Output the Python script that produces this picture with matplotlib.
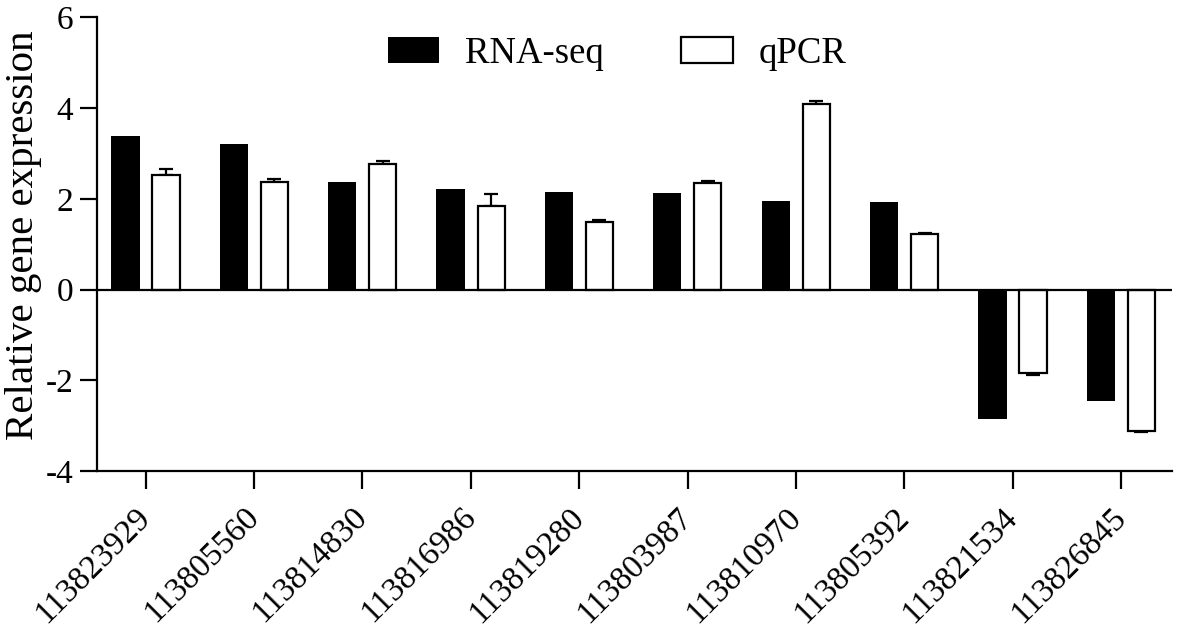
import numpy as np
import matplotlib
matplotlib.use("Agg")
import matplotlib.pyplot as plt

plt.rcParams["font.family"] = ["Liberation Serif", "DejaVu Serif"]

genes = ["113823929", "113805560", "113814830", "113816986", "113819280",
         "113803987", "113810970", "113805392", "113821534", "113826845"]
rna_seq = [3.38, 3.20, 2.37, 2.21, 2.16, 2.12, 1.96, 1.94, -2.85, -2.46]
qpcr = [2.52, 2.37, 2.76, 1.84, 1.48, 2.34, 4.09, 1.22, -1.84, -3.12]
qpcr_err = [0.13, 0.07, 0.07, 0.26, 0.05, 0.06, 0.06, 0.03, 0.04, 0.03]

fig = plt.figure(figsize=(11.81, 6.34), dpi=100)
ax = fig.add_axes([0.0821, 0.2571, 0.9103, 0.7153])

x = np.arange(len(genes))
w = 0.26
off = 0.187

ax.bar(x - off, rna_seq, w, color="black", edgecolor="black", lw=0, label="RNA-seq", zorder=3)
ax.bar(x + off, qpcr, w * 0.96, color="white", edgecolor="black", lw=1.6, label="qPCR", zorder=3)

# one-sided error bars, away from zero
q = np.array(qpcr)
e = np.array(qpcr_err)
lower = np.where(q < 0, e, 0)
upper = np.where(q >= 0, e, 0)
ax.errorbar(x + off, q, yerr=[lower, upper], fmt="none", ecolor="black",
            elinewidth=1.6, capsize=4.7, capthick=1.6, zorder=2)

ax.axhline(0, color="black", lw=1.6, zorder=4)

ax.set_xlim(-0.45, 9.47)
ax.set_ylim(-4, 6)
ax.set_yticks([-4, -2, 0, 2, 4, 6])
ax.set_yticklabels(["-4", "-2", "0", "2", "4", "6"])
ax.set_xticks(x)
ax.set_xticklabels(genes, rotation=45, ha="right", va="center", rotation_mode="anchor")

for s in ["top", "right"]:
    ax.spines[s].set_visible(False)
for s in ["left", "bottom"]:
    ax.spines[s].set_linewidth(1.6)
ax.tick_params(axis="y", length=12, width=1.6, pad=5, labelsize=24)
ax.tick_params(axis="x", length=13, width=1.6, pad=17, labelsize=24)

ax.set_ylabel("Relative gene expression", fontsize=29.5)
ax.yaxis.set_label_coords(-0.051, 0.52)

fig.legend(loc="center", bbox_to_anchor=(0.5226, 0.915), ncol=2, frameon=False,
           fontsize=26.5, handlelength=1.4, handleheight=0.7, handletextpad=0.7,
           columnspacing=2.1, borderpad=0)

plt.savefig("out.png", dpi=100)
plt.close()
